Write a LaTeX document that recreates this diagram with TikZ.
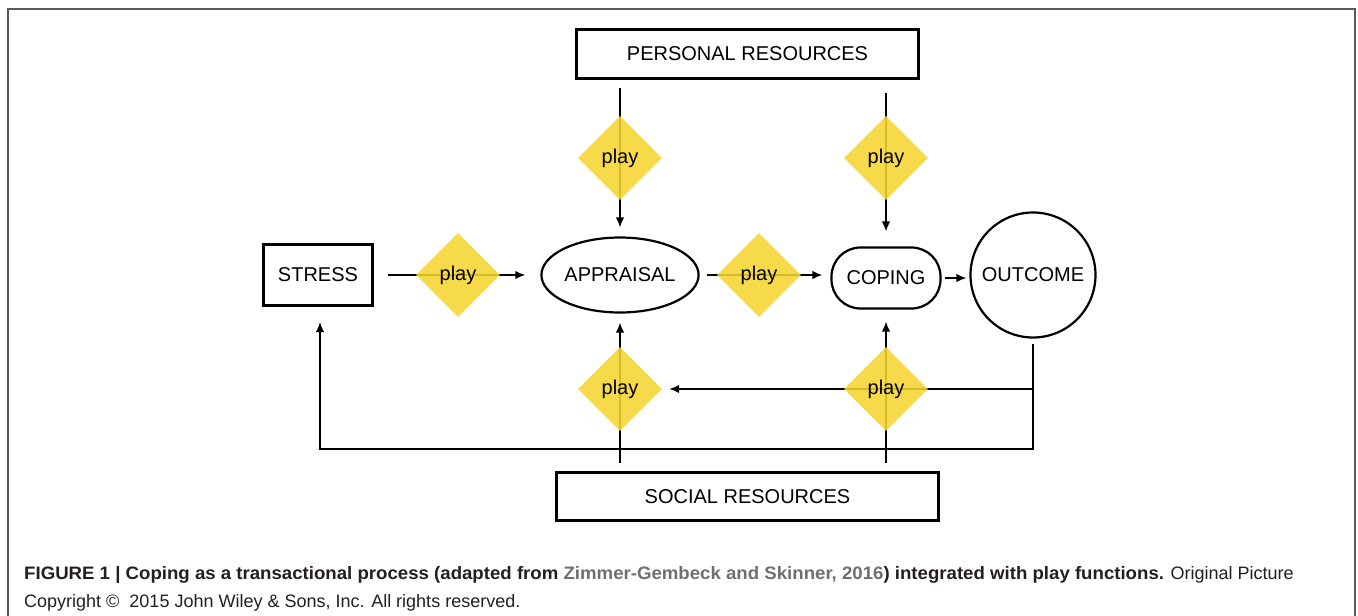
\documentclass[tikz,border=0pt]{standalone}
\usepackage{fontspec}
\setmainfont{Liberation Sans}
\newfontfamily\capbf{Liberation Sans}[FakeStretch=1.035]
\usetikzlibrary{shapes.geometric,arrows.meta,backgrounds}
\definecolor{playyellow}{RGB}{245,213,50}
\definecolor{framegray}{RGB}{90,90,90}
\definecolor{citegray}{RGB}{110,111,113}
\definecolor{captext}{RGB}{35,31,32}
\begin{document}
\begin{tikzpicture}[x=1pt,y=-1pt,
  lbl/.style={font=\fontsize{20}{24}\selectfont, text=black},
  rbox/.style={lbl, draw, line width=2.2pt, rectangle, inner sep=0pt},
  ellbox/.style={lbl, draw, line width=2.2pt, ellipse, inner sep=0pt},
  pillbox/.style={lbl, draw, line width=2.2pt, rectangle, rounded corners=29pt, inner sep=0pt},
  circbox/.style={lbl, draw, line width=2.2pt, circle, inner sep=0pt},
  playd/.style={lbl, diamond, fill=playyellow, fill opacity=0.88, text opacity=1, minimum width=84pt, minimum height=84pt, inner sep=0pt},
  conn/.style={line width=1.6pt, black},
  arr/.style={conn, -{Latex[length=10pt,width=8.5pt]}},
  captxt/.style={anchor=base west, inner sep=0pt, text=captext, font=\fontsize{18}{21}\selectfont}
]
\useasboundingbox (0,0) rectangle (1358,616);
% frame
\draw[framegray, line width=1.6pt] (8,630) -- (8,9) -- (1355,9) -- (1355,630);

% main nodes
\node[rbox, minimum width=342pt, minimum height=49pt] (pr) at (747.5,54) {PERSONAL RESOURCES};
\node[rbox, minimum width=382pt, minimum height=48pt] (sr) at (747.5,496.5) {SOCIAL RESOURCES};
\node[rbox, minimum width=109pt, minimum height=61pt] (stress) at (318,275) {STRESS};
\node[ellbox, minimum width=150pt, minimum height=75pt] (appr) at (620,275) {APPRAISAL};
\node[pillbox, minimum width=109pt, minimum height=61pt] (coping) at (886,278) {COPING};
\node[circbox, minimum size=125pt] (outc) at (1033,275) {OUTCOME};

% play diamonds
\node[playd] (dpa) at (620,158) {play};
\node[playd] (dpc) at (886,158) {play};
\node[playd] (dsa) at (458,275) {play};
\node[playd] (dac) at (759,275) {play};
\node[playd] (dsb1) at (620,389) {play};
\node[playd] (dsb2) at (886,389) {play};

% free ends
\coordinate (pr1) at (620,88);
\coordinate (pr2) at (886,93);
\coordinate (s1) at (388,275);
\coordinate (sr1) at (620,463);
\coordinate (sr2) at (886,463);
\coordinate (o1) at (1033,344);
\coordinate (o2) at (1033,389);
\coordinate (o3) at (1033,449);
\coordinate (st1) at (320,449);
\coordinate (st2) at (320,322);

\begin{pgfonlayer}{background}
\fill[white] (0,0) rectangle (1358,616);
\draw[arr, shorten >=9pt] (pr1) -- (appr.north);
\draw[arr, shorten >=15pt] (pr2) -- (coping.north);
\draw[arr, shorten >=15pt] (s1) -- (appr.west);
\draw[arr, shorten <=7pt, shorten >=8pt] (appr.east) -- (appr.east -| coping.west);
\draw[arr, shorten <=3pt, shorten >=3pt] (coping.east) -- (coping.east -| outc.west);
\draw[arr, shorten >=9pt] (sr1) -- (appr.south);
\draw[arr, shorten >=12pt] (sr2) -- (coping.south);
\draw[arr, shorten >=7pt] (o2) -- (dsb1.east);
\draw[arr] (o1) -- (o3) -- (st1) -- (st2);
\end{pgfonlayer}

% caption
\node[captxt] (cap1) at (24,579) {{\capbf\bfseries FIGURE 1 | Coping as a transactional process (adapted from \textcolor{citegray}{Zimmer-Gembeck and Skinner, 2016}) integrated with play functions.} Original Picture};
\node[captxt] (cap2) at (24,607) {Copyright ©\ \ 2015 John Wiley \& Sons, Inc. All rights reserved.};
\end{tikzpicture}
\end{document}
